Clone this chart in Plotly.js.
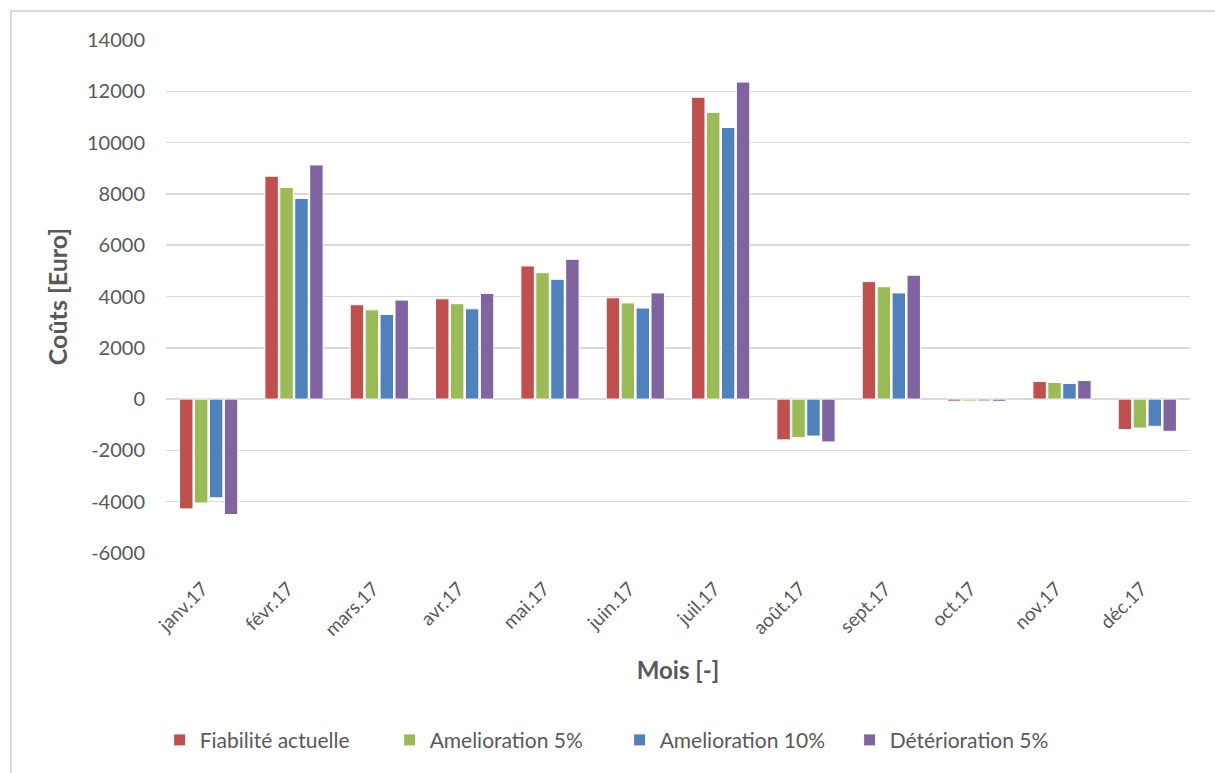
<!DOCTYPE html>
<html>
<head>
<meta charset="utf-8">
<script src="https://cdn.plot.ly/plotly-3.0.1.min.js"></script>
<style>
  html, body { margin: 0; padding: 0; background: #ffffff; }
  #wrap { position: relative; width: 1215px; height: 773px; overflow: hidden; }
  #chart { width: 1215px; height: 773px; }
  #frame { position: absolute; left: 10px; top: 10px; width: 1300px; height: 900px;
           border-top: 2px solid #d9d9d9; border-left: 2px solid #d9d9d9; pointer-events: none; }
</style>
</head>
<body>
<div id="wrap">
  <div id="chart"></div>
  <div id="frame"></div>
</div>
<script>
// Monthly cost per reliability scenario (Euro)
const months = ["janv.17", "févr.17", "mars.17", "avr.17", "mai.17", "juin.17",
                "juil.17", "août.17", "sept.17", "oct.17", "nov.17", "déc.17"];

const fiabiliteActuelle = [-4280, 8690, 3680, 3910, 5190, 3950, 11770, -1590, 4580, -80, 690, -1190];
const amelioration5     = [-4050, 8250, 3480, 3720, 4930, 3750, 11180, -1500, 4380, -76, 650, -1130];
const amelioration10    = [-3850, 7820, 3300, 3520, 4670, 3550, 10590, -1440, 4140, -72, 610, -1060];
const deterioration5    = [-4500, 9130, 3860, 4120, 5450, 4140, 12360, -1670, 4830, -84, 725, -1255];

const seriesNames  = ["Fiabilité actuelle", "Amelioration 5%", "Amelioration 10%", "Détérioration 5%"];
const seriesColors = ["#C0504D", "#9BBB59", "#4F81BD", "#8064A2"];
const seriesValues = [fiabiliteActuelle, amelioration5, amelioration10, deterioration5];

const yTicks = [-6000, -4000, -2000, 0, 2000, 4000, 6000, 8000, 10000, 12000, 14000];

const FONT = "Lato, 'Open Sans', 'Liberation Sans', sans-serif";
const TXT = "#595959";

const traces = seriesValues.map((vals, i) => ({
  type: "bar",
  name: seriesNames[i],
  x: months,
  y: vals,
  marker: { color: seriesColors[i], line: { color: "#ffffff", width: 1 } },
  hoverinfo: "x+y+name"
}));

const layout = {
  width: 1215,
  height: 773,
  paper_bgcolor: "#ffffff",
  plot_bgcolor: "#ffffff",
  margin: { l: 166, r: 25, t: 40, b: 218 },
  barmode: "group",
  bargap: 0.3,
  bargroupgap: 0.1,
  showlegend: true,
  legend: {
    orientation: "h",
    x: 0.443, xanchor: "center",
    y: -0.365, yanchor: "middle",
    font: { family: FONT, size: 21, color: TXT },
    itemwidth: 30,
    entrywidth: 185,
    traceorder: "normal"
  },
  xaxis: {
    type: "category",
    tickangle: -45,
    tickfont: { family: FONT, size: 19, color: TXT },
    showgrid: false,
    showline: false,
    ticks: "",
    ticklen: 0,
    ticklabelstandoff: 20,
    ticklabelshift: -6,
    automargin: false,
    title: { text: "Mois [-]", font: { family: FONT, size: 24, color: TXT, weight: "bold" }, standoff: 22 }
  },
  yaxis: {
    range: [-6000, 14000],
    tickvals: yTicks,
    ticktext: yTicks.map(String),
    tickfont: { family: FONT, size: 20, color: TXT },
    showgrid: true,
    gridcolor: "#d9d9d9",
    gridwidth: 1.5,
    zeroline: true,
    zerolinecolor: "#d9d9d9",
    zerolinewidth: 1.5,
    showline: false,
    ticks: "",
    ticklabelstandoff: 20,
    automargin: false,
    title: { text: "Coûts [Euro]", font: { family: FONT, size: 25, color: TXT, weight: "bold" }, standoff: 12 }
  }
};

Plotly.newPlot("chart", traces, layout, { displayModeBar: false, staticPlot: true });
</script>
</body>
</html>
